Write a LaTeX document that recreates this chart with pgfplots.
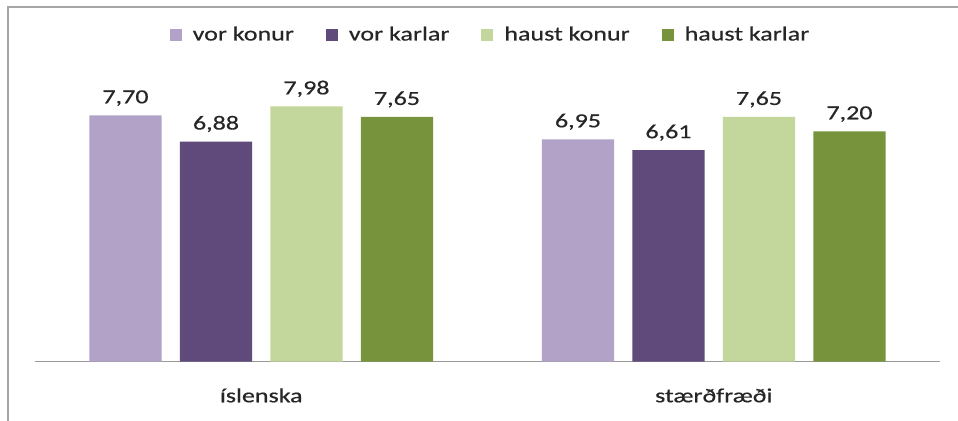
\documentclass[border=0pt]{standalone}
\usepackage{pgfplots}
\pgfplotsset{compat=1.18}
\usepackage{fontspec}
\setmainfont{Carlito}[FakeStretch=1.3, FakeBold=0.6]
\definecolor{vk}{HTML}{B3A2C7}
\definecolor{vka}{HTML}{604A7B}
\definecolor{hk}{HTML}{C3D69B}
\definecolor{hka}{HTML}{77933C}
\definecolor{txt}{HTML}{262626}
\begin{document}
\begin{tikzpicture}
\begin{axis}[
  at={(0pt,0pt)}, anchor=south west,
  scale only axis, width=452.5pt, height=144pt,
  ymin=0, ymax=9, xmin=-0.5, xmax=1.5,
  ybar, bar width=0.16,
  axis x line=bottom, axis y line=none,
  axis line style={draw=gray!80, line width=0.6pt, -},
  xtick={0,1}, xticklabels={íslenska, stærðfræði},
  xtick style={draw=none},
  ytick=\empty,
  xticklabel style={anchor=base, yshift=-18.15pt, font=\fontsize{10}{12}\selectfont, text=txt},
  nodes near coords,
  every node near coord/.append style={anchor=base, yshift=6pt, font=\fontsize{10}{12}\selectfont, text=txt},
  /pgf/number format/.cd, fixed, fixed zerofill, precision=2, use comma, assume math mode=true,
  /pgfplots/.cd,
  legend columns=4,
  legend style={at={(0.5,1.1344)}, anchor=center, xshift=2pt, draw=none, fill=none,
    font=\fontsize{10}{12}\selectfont, text=txt,
    /tikz/every odd column/.append style={column sep=3.5pt},
    /tikz/every even column/.append style={column sep=14pt}},
  legend image code/.code={\fill[#1] (0pt,-3pt) rectangle (6pt,3pt);},
]
\addplot[fill=vk, draw=none, bar shift=-0.3] coordinates {(0,7.70) (1,6.95)};
\addlegendentry{vor konur}
\addplot[fill=vka, draw=none, bar shift=-0.1] coordinates {(0,6.88) (1,6.61)};
\addlegendentry{vor karlar}
\addplot[fill=hk, draw=none, bar shift=0.1] coordinates {(0,7.98) (1,7.65)};
\addlegendentry{haust konur}
\addplot[fill=hka, draw=none, bar shift=0.3] coordinates {(0,7.65) (1,7.20)};
\addlegendentry{haust karlar}
\end{axis}
\draw[gray!70, line width=0.8pt] (-13.5pt,-29.65pt) -- (-13.5pt,177.35pt) -- (461.5pt,177.35pt);
\pgfresetboundingbox
\path (-17.5pt,-29.65pt) rectangle (461.5pt,180.85pt);
\end{tikzpicture}
\end{document}
